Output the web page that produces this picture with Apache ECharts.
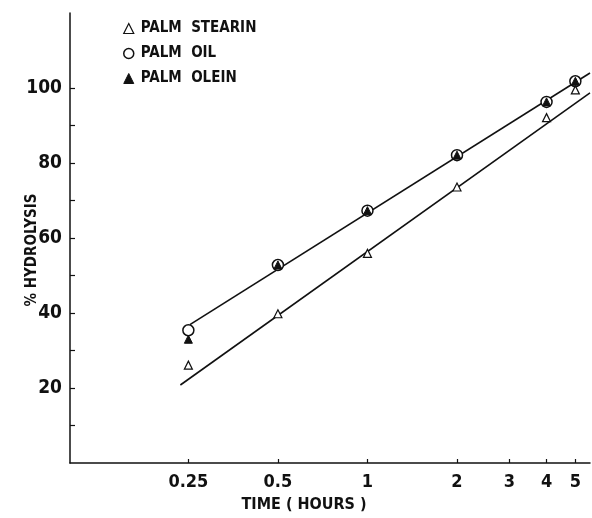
<!DOCTYPE html>
<html>
<head>
<meta charset="utf-8">
<script src="https://cdn.jsdelivr.net/npm/echarts@6/dist/echarts.min.js"></script>
<style>
html,body{margin:0;padding:0;background:#fff;}
#c{width:592px;height:518px;}
</style>
</head>
<body>
<div id="c"></div>
<script>
// Time (hours), log scale
var times = [0.25, 0.5, 1, 2, 4, 5];
var xTickLabels = [0.25, 0.5, 1, 2, 3, 4, 5];
var yTickLabels = [20, 40, 60, 80, 100];
var yMinorTicks = [10, 20, 30, 40, 50, 60, 70, 80, 90, 100];

var stearin = [26.1, 39.8, 55.9, 73.6, 92.1, 99.5];
var palmOil = [35.4, 52.8, 67.3, 82.1, 96.3, 101.8];
var olein   = [33.0, 52.8, 67.3, 82.1, 96.3, 101.8];

// fitted lines (endpoints)
var upperLineT = [0.253, 5.6];
var upperLineV = [36.9, 104.0];
var lowerLineT = [0.235, 5.6];
var lowerLineV = [20.8, 98.7];

var names = ['PALM  STEARIN', 'PALM  OIL', 'PALM  OLEIN'];

function pairs(xs, ys){ return xs.map(function(x,i){ return [x, ys[i]]; }); }

var FONT = "'Liberation Sans Narrow','DejaVu Sans Condensed',sans-serif";

var chart = echarts.init(document.getElementById('c'), null, {renderer:'canvas'});
chart.setOption({
  animation: false,
  backgroundColor: '#fff',
  grid: {left: 70, right: 2, top: 13, bottom: 51, containLabel: false},
  legend: {
    data: [
      {name: names[0], icon: 'triangle', itemStyle: {color: '#fff', borderColor: '#111', borderWidth: 1.2}},
      {name: names[1], icon: 'circle', itemStyle: {color: '#fff', borderColor: '#111', borderWidth: 1.5}},
      {name: names[2], icon: 'triangle', itemStyle: {color: '#111', borderColor: '#111', borderWidth: 1}}
    ],
    orient: 'vertical',
    left: 118, top: 16,
    itemWidth: 10, itemHeight: 10,
    itemGap: 10,
    selectedMode: false,
    textStyle: {fontFamily: FONT, fontWeight: 'bold', fontSize: 15, color: '#111', padding: [0,0,0,2]}
  },
  xAxis: {
    type: 'log',
    logBase: 10,
    min: 0.1, max: 5.6,
    name: 'TIME ( HOURS )',
    nameLocation: 'middle',
    nameMoveOverlap: false,
    nameGap: 42,
    nameTextStyle: {fontFamily: FONT, fontWeight: 'bold', fontSize: 16, color: '#111',
      align: 'center', verticalAlign: 'middle', padding: [0, 52, 0, 0]},
    axisLine: {show: true, onZero: false, lineStyle: {color: '#111', width: 1.5}},
    axisTick: {show: true, inside: true, length: 4, customValues: xTickLabels, lineStyle: {color: '#111', width: 1.2}},
    axisLabel: {customValues: xTickLabels, margin: 10, fontFamily: FONT, fontWeight: 'bold', fontSize: 18, color: '#111',
      formatter: function(v){ return String(+(+v).toFixed(2)); }},
    splitLine: {show: false},
    minorTick: {show: false}
  },
  yAxis: {
    type: 'value',
    min: 0, max: 120,
    interval: 10,
    name: '% HYDROLYSIS',
    nameLocation: 'middle',
    nameMoveOverlap: false,
    nameGap: 38,
    nameRotate: 90,
    nameTextStyle: {fontFamily: FONT, fontWeight: 'bold', fontSize: 15, color: '#111',
      align: 'center', verticalAlign: 'middle', padding: [0, 24, 0, 0]},
    axisLine: {show: true, lineStyle: {color: '#111', width: 1.5}},
    axisTick: {show: true, inside: true, length: 5, customValues: yMinorTicks, lineStyle: {color: '#111', width: 1.2}},
    axisLabel: {customValues: yTickLabels, margin: 8, fontFamily: FONT, fontWeight: 'bold', fontSize: 19, color: '#111'},
    splitLine: {show: false}
  },
  series: [
    {type: 'line', data: pairs(upperLineT, upperLineV), showSymbol: false, symbol: 'none',
     lineStyle: {color: '#111', width: 1.6}, z: 1, silent: true},
    {type: 'line', data: pairs(lowerLineT, lowerLineV), showSymbol: false, symbol: 'none',
     lineStyle: {color: '#111', width: 1.6}, z: 1, silent: true},
    {name: names[0], type: 'scatter', data: pairs(times, stearin), symbol: 'triangle', symbolSize: 8,
     itemStyle: {color: '#fff', borderColor: '#111', borderWidth: 1.2, opacity: 1}, z: 3},
    {name: names[1], type: 'scatter', data: pairs(times, palmOil), symbol: 'circle', symbolSize: 11,
     itemStyle: {color: '#fff', borderColor: '#111', borderWidth: 1.5, opacity: 1}, z: 2},
    {name: names[2], type: 'scatter', data: pairs(times, olein), symbol: 'triangle', symbolSize: 8,
     itemStyle: {color: '#111', borderColor: '#111', borderWidth: 1, opacity: 1}, z: 4}
  ]
});
</script>
</body>
</html>
